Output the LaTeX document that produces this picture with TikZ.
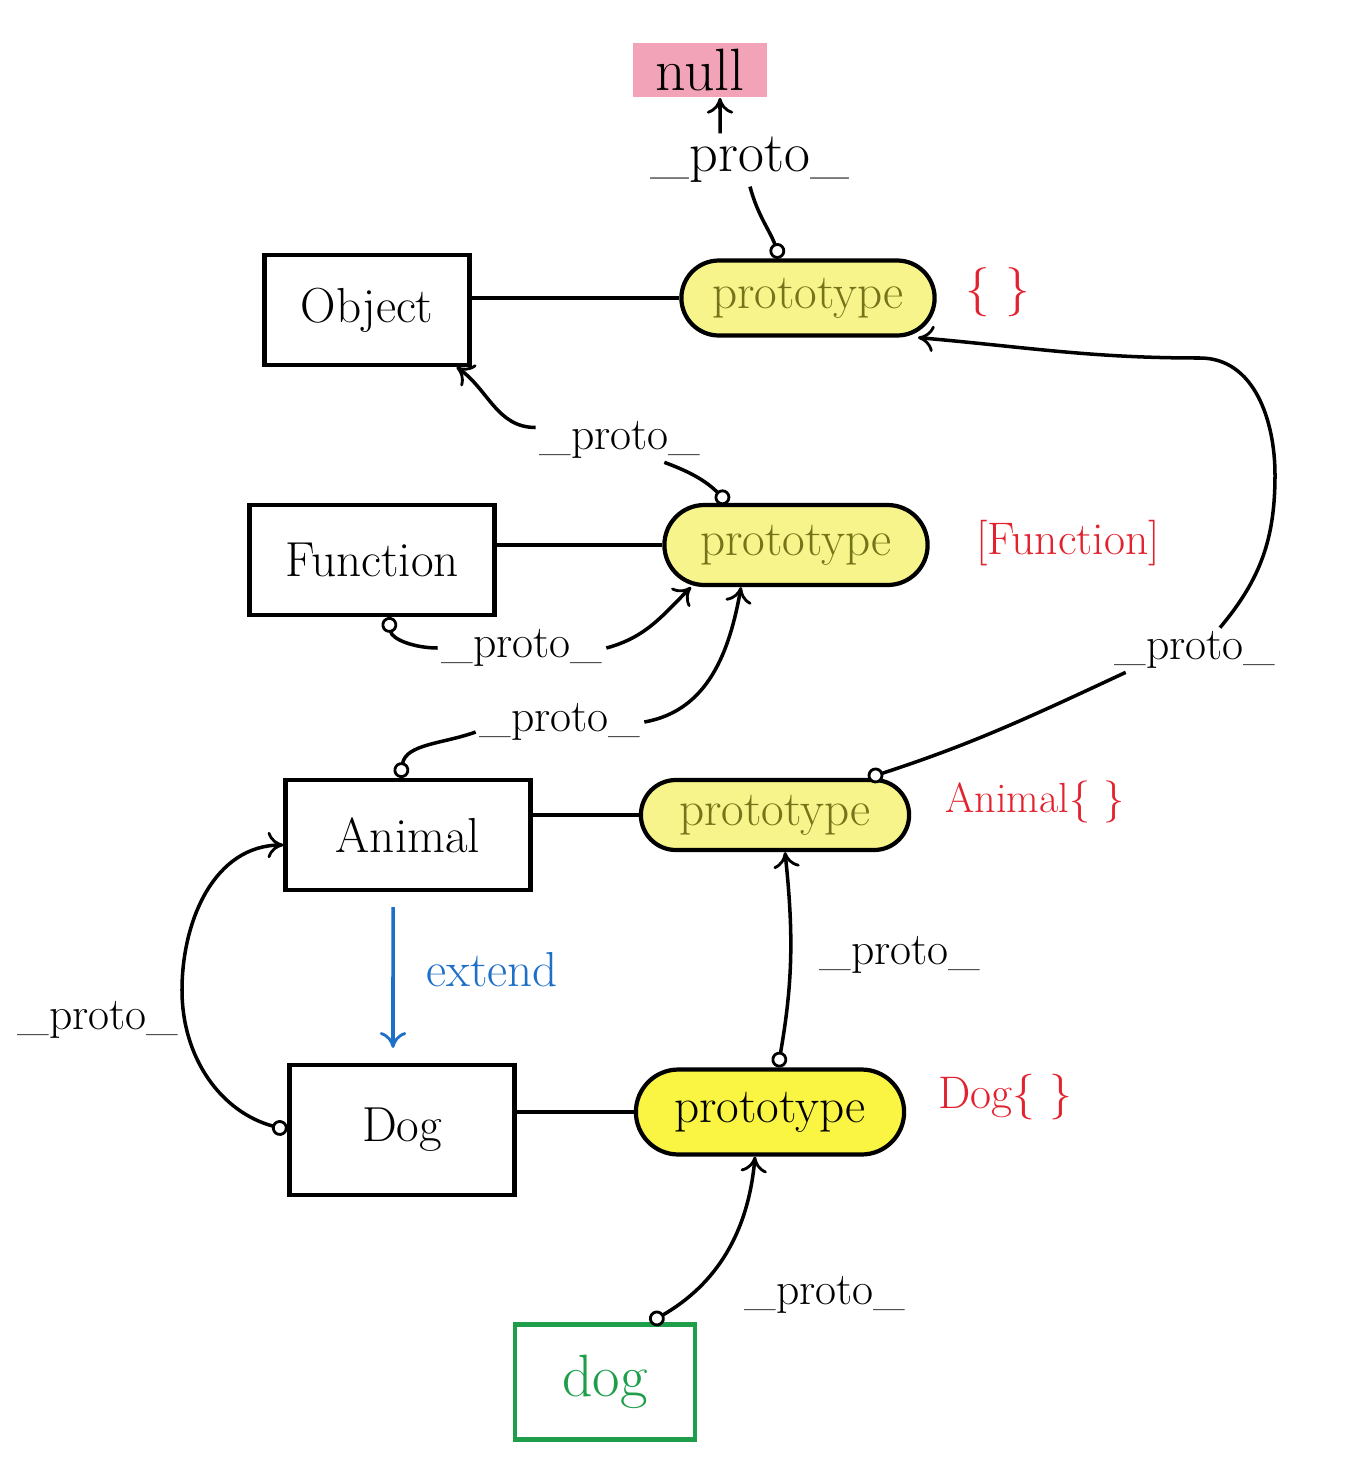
\documentclass[tikz,border=0pt]{standalone}
\usepackage{tikz}
\usetikzlibrary{arrows.meta,shapes,positioning}

\definecolor{nullpink}{HTML}{F2A3B8}
\definecolor{hlyellow}{HTML}{F6F48A}
\definecolor{dogyellow}{HTML}{FAF542}
\definecolor{olivetext}{HTML}{76741A}
\definecolor{markred}{HTML}{E2222E}
\definecolor{extblue}{HTML}{1E6FC8}
\definecolor{dotgreen}{HTML}{1E9E4A}

\tikzset{
  classbox/.style={draw, line width=2.4pt, minimum height=2.2cm, font=\fontsize{28}{32}\selectfont},
  protobox/.style={draw, rounded rectangle, line width=2.4pt, fill=hlyellow, text=olivetext,
    minimum height=1.5cm, font=\fontsize{28}{32}\selectfont},
  protolbl/.style={inner sep=2pt, font=\fontsize{26}{30}\selectfont},
  redlbl/.style={text=markred, font=\fontsize{24}{28}\selectfont},
  link/.style={line width=2pt},
  fromdot/.style={{Circle[open,length=9pt,width=9pt,fill=white,line width=1.6pt]}-},
  todart/.style={-{To[length=9pt,width=15pt,line width=1.6pt]}},
  dotdart/.style={{Circle[open,length=9pt,width=9pt,fill=white,line width=1.6pt]}-{To[length=9pt,width=15pt,line width=1.6pt]}},
}

\begin{document}
\begin{tikzpicture}[x=0.02cm,y=-0.02cm]
  \useasboundingbox (0,0) rectangle (1351,1481);

  % null at the top
  \node[fill=nullpink, minimum width=2.7cm, minimum height=1.1cm,
        font=\fontsize{34}{38}\selectfont] (null) at (700,70) {null};

  % constructors
  \node[classbox, minimum width=4.1cm] (ob) at (367,310) {Object};
  \node[classbox, minimum width=4.9cm] (fb) at (372,560) {Function};
  \node[classbox, minimum width=4.9cm] (ab) at (408,835) {Animal};
  \node[classbox, minimum width=4.5cm, minimum height=2.6cm] (db) at (402,1130) {Dog};
  \node[classbox, draw=dotgreen, text=dotgreen, minimum width=3.6cm, minimum height=2.3cm,
        font=\fontsize{34}{38}\selectfont] (dg) at (605,1382) {dog};

  % prototypes
  \node[protobox, minimum width=5.3cm] (op) at (808,298) {prototype};
  \node[protobox, minimum width=5.5cm, minimum height=1.6cm] (fp) at (796,545) {prototype};
  \node[protobox, minimum width=5.6cm, minimum height=1.4cm] (ap) at (775,815) {prototype};
  \node[protobox, fill=dogyellow, text=black, minimum width=5.6cm, minimum height=1.7cm] (dp) at (770,1112) {prototype};

  % what the prototypes are
  \node[redlbl, font=\fontsize{28}{32}\selectfont] (or) at (998,292) {\{ \}};
  \node[redlbl, font=\fontsize{26}{30}\selectfont] (fr) at (1068,543) {[Function]};
  \node[redlbl] (ar) at (1035,802) {Animal\{ \}};
  \node[redlbl, font=\fontsize{26}{30}\selectfont] (dr) at (1005,1097) {Dog\{ \}};

  % _proto_ labels
  \node[protolbl, font=\fontsize{32}{36}\selectfont] (l1) at (750,160) {\_proto\_};
  \node[protolbl] (l2) at (620,440) {\_proto\_};
  \node[protolbl] (l3) at (522,648) {\_proto\_};
  \node[protolbl] (l4) at (560,722) {\_proto\_};
  \node[protolbl] (l5) at (1195,650) {\_proto\_};
  \node[protolbl] (l6) at (98,1020) {\_proto\_};
  \node[protolbl] (l7) at (900,955) {\_proto\_};
  \node[protolbl] (l8) at (825,1295) {\_proto\_};

  % constructor -- prototype
  \draw[link] (op.west -| ob.east) -- (op.west);
  \draw[link] (fp.west -| fb.east) -- (fp.west);
  \draw[link] (ap.west -| ab.east) -- (ap.west);
  \draw[link] (dp.west -| db.east) -- (dp.west);

  % Object.prototype -> null
  \draw[link, fromdot] ([xshift=-0.56cm]op.north) to[out=110,in=-75] (l1.south);
  \draw[link, todart] ([xshift=-0.6cm]l1.north) -- ([xshift=0.4cm]null.south);

  % Function.prototype -> Object
  \draw[link, fromdot] ([xshift=-1.36cm]fp.north) to[out=135,in=-20] ([xshift=-0.8cm]l2.south east);
  \draw[link, todart] ([yshift=0.25cm]l2.west) to[out=180,in=-35] ([xshift=-0.3cm]ob.south east);

  % Function -> Function.prototype
  \draw[link, fromdot] ([xshift=0.32cm]fb.south) to[out=-80,in=180] (l3.west);
  \draw[link, todart] (l3.east) to[out=15,in=-135] ([xshift=-2.1cm]fp.south);

  % Animal -> Function.prototype
  \draw[link, fromdot] ([xshift=-0.16cm]ab.north) to[out=80,in=200] ([yshift=-0.2cm]l4.west);
  \draw[link, todart] (l4.east) to[out=10,in=-100] ([xshift=-1.1cm]fp.south);

  % Animal.prototype -> Object.prototype
  \draw[link, fromdot] ([xshift=1.86cm]ap.north) to[out=18,in=205] ([xshift=0.3cm]l5.south west);
  \draw[link, todart] ([xshift=0.5cm]l5.north) to[out=50,in=-90] (1275,475)
    to[out=90,in=0] (1200,358) to[out=180,in=-5] ([xshift=2.2cm]op.south);

  % Dog -> Animal
  \draw[link, dotdart] (db.west) to[out=165,in=-90] (182,990) to[out=90,in=180] ([yshift=-0.2cm]ab.west);

  % Dog.prototype -> Animal.prototype
  \draw[link, dotdart] ([xshift=0.16cm]dp.north) to[bend right=8] ([xshift=0.2cm]ap.south);

  % dog -> Dog.prototype
  \draw[link, dotdart] ([xshift=0.9cm]dg.north) to[out=30,in=-95] ([xshift=-0.3cm]dp.south);

  % extend
  \draw[link, extblue, todart, shorten <=0.3cm, shorten >=0.3cm] ([xshift=-0.3cm]ab.south) -- ([xshift=-0.18cm]db.north);
  \node[text=extblue, font=\fontsize{28}{32}\selectfont] (ext) at (492,970) {extend};
\end{tikzpicture}
\end{document}
